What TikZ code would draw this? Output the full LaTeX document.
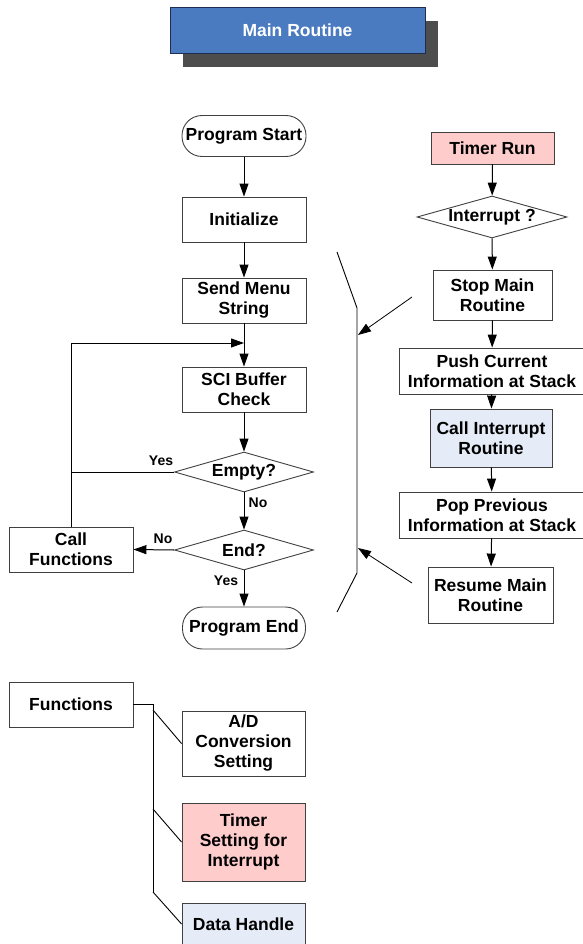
\documentclass[tikz,border=0pt]{standalone}
\usepackage{fontspec}
\setmainfont{Liberation Sans}
\usepackage{xcolor}
\usepackage{tikz}
\usetikzlibrary{shapes.geometric, positioning, calc, arrows.meta, shadows}

\begin{document}
\begin{tikzpicture}[x=1pt, y=-1pt,
        procbox/.style={draw=boxgray, line width=0.9pt, fill=white, rectangle, align=center, inner sep=2pt,
            font=\bfseries\fontsize{17.5}{20}\selectfont},
        termbox/.style={procbox, rounded corners=20pt},
        decision/.style={draw=boxgray, line width=0.9pt, fill=white, diamond, aspect=3.5, inner sep=0pt,
            font=\bfseries\fontsize{17.5}{20}\selectfont},
        answer/.style={font=\bfseries\fontsize{14}{16}\selectfont},
        flow/.style={line width=1pt, ->, >={Triangle[length=13pt, width=9pt]}},
        tree/.style={line width=0.9pt}]
        % Define colors for the boxes
        \definecolor{boxgray}{RGB}{64,64,64}
        \definecolor{titleblue}{RGB}{74,123,192}
        \definecolor{titleedge}{RGB}{31,45,82}
        \definecolor{shadowgray}{RGB}{77,77,77}
        \definecolor{timerpink}{RGB}{255,204,204}
        \definecolor{callblue}{RGB}{230,236,247}

        \useasboundingbox (0,0) rectangle (582,944);

        % Title with its shadow
        \node[draw=titleedge, line width=1pt, fill=titleblue, text=white, minimum width=255, minimum height=46,
            drop shadow={shadow xshift=13pt, shadow yshift=-14pt, fill=shadowgray, opacity=1},
            font=\bfseries\fontsize{17.5}{20}\selectfont] (title) at (297.5,30.5) {Main Routine};

        % Main routine flow
        \node[termbox, minimum width=124, minimum height=41] (start) at (244,136) {Program Start};
        \node[procbox, minimum width=124, minimum height=45] (init) at (244,219.5) {Initialize};
        \node[procbox, minimum width=124, minimum height=45] (menu) at (244,300.5) {Send Menu\\String};
        \node[procbox, minimum width=124, minimum height=45] (sci) at (244,389.5) {SCI Buffer\\Check};
        \node[decision, minimum width=139, minimum height=40] (empty) at (244,472) {Empty?};
        \node[decision, minimum width=139, minimum height=40] (endq) at (244,550) {End?};
        \node[procbox, minimum width=124, minimum height=45] (callf) at (71,549.5) {Call\\Functions};
        \node[termbox, minimum width=123, minimum height=42] (pend) at (244,628) {Program End};

        \node[answer] (yes1) at (161,461) {Yes};
        \node[answer] (no1) at (258,503) {No};
        \node[answer] (no2) at (163,539) {No};
        \node[answer] (yes2) at (226,581) {Yes};

        \coordinate (loopin) at (244,343);

        \draw[flow] (start) -- (init);
        \draw[flow] (init) -- (menu);
        \draw[flow] (menu) -- (sci);
        \draw[flow] (sci) -- (empty);
        \draw[flow] (empty) -- (endq);
        \draw[flow] (endq) -- (pend);
        \draw[flow] (endq.west) -- (callf.east);
        \draw[line width=1pt] (empty.west) -- (empty.west -| callf);
        \draw[flow] (callf.north) |- (loopin);

        % Interrupt flow
        \node[procbox, fill=timerpink, minimum width=123, minimum height=32] (trun) at (492.5,148) {Timer Run};
        \node[decision, minimum width=150, minimum height=42] (intq) at (492,217) {Interrupt ?};
        \node[procbox, minimum width=119, minimum height=50] (stop) at (492.5,295) {Stop Main\\Routine};
        \node[procbox, minimum width=186, minimum height=46] (push) at (492,371) {Push Current\\Information at Stack};
        \node[procbox, fill=callblue, minimum width=122, minimum height=58] (calli) at (491,438) {Call Interrupt\\Routine};
        \node[procbox, minimum width=186, minimum height=46] (pop) at (492,515) {Pop Previous\\Information at Stack};
        \node[procbox, minimum width=125, minimum height=56] (resume) at (490.5,595) {Resume Main\\Routine};

        \draw[flow] (trun) -- (intq);
        \draw[flow] (intq) -- (stop);
        \draw[flow] (stop) -- (push);
        \draw[flow] (push) -- (calli);
        \draw[flow] (calli) -- (pop);
        \draw[flow] (pop) -- (resume);

        % Bracket with the jump out and back
        \coordinate (brA) at (337,252);
        \coordinate (brB) at (357,308);
        \coordinate (brC) at (357,573);
        \coordinate (brD) at (337,612);
        \coordinate (outfrom) at (412,297);
        \coordinate (outto) at (358,335);
        \coordinate (backfrom) at (412,583);
        \coordinate (backto) at (358,548);
        \draw[line width=0.9pt] (brA) -- (brB) -- (brC) -- (brD);
        \draw[flow, line width=0.8pt] (outfrom) -- (outto);
        \draw[flow, line width=0.8pt] (backfrom) -- (backto);

        % Functions tree
        \node[procbox, minimum width=124, minimum height=45] (funcs) at (71,704.5) {Functions};
        \node[procbox, minimum width=123, minimum height=65] (ad) at (243.5,743.5) {A/D\\Conversion\\Setting};
        \node[procbox, fill=timerpink, minimum width=123, minimum height=78] (tset) at (243.5,842) {Timer\\Setting for\\Interrupt};
        \node[procbox, fill=callblue, minimum width=123, minimum height=42] (dhandle) at (243.5,924) {Data Handle};

        \coordinate (trunk) at (153,704.5);
        \coordinate (tadA) at (153,710);
        \coordinate (tadB) at (153,809);
        \coordinate (tadC) at (153,892);
        \draw[tree] (funcs.east) -- (trunk) -- (tadC);
        \draw[tree] (tadA) -- (ad.west);
        \draw[tree] (tadB) -- (tset.west);
        \draw[tree] (tadC) -- (dhandle.west);

    \end{tikzpicture}
\end{document}
